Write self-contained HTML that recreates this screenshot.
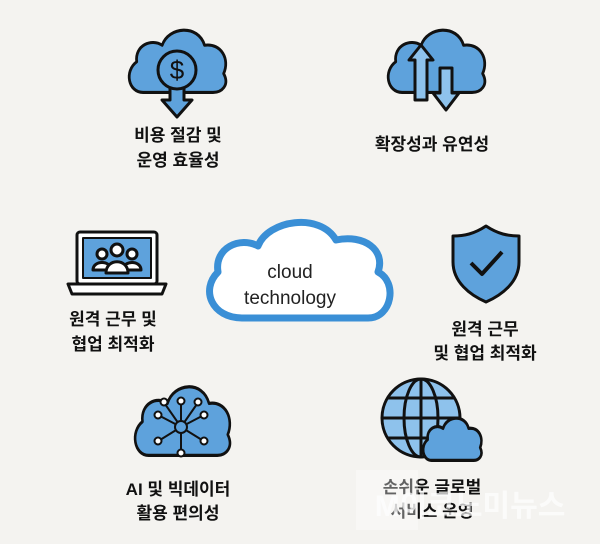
<!DOCTYPE html>
<html><head><meta charset="utf-8"><style>
body{margin:0;width:600px;height:544px;background:#f4f3f0;overflow:hidden;font-family:"Liberation Sans","Noto Sans CJK KR",sans-serif}
svg{position:absolute;left:0;top:0}
</style></head><body>
<svg width="600" height="544" viewBox="0 0 600 544">
<defs>
<path id="c" d="M18,58 C4,58 0,40 12,32 C10,18 26,12 36,18 C42,2 70,0 76,18 C92,16 100,30 94,42 C100,52 92,58 84,58 Z"/>
</defs>
<g stroke="#111" stroke-width="3" stroke-linejoin="round" fill="#5ea2dc">
<use href="#c" transform="translate(124,24) scale(1.06,1.18)" stroke-width="2.6"/>
<path d="M170,85 V100 H162 L177,117 L192,100 H184 V85 Z"/>
<circle cx="177" cy="70" r="19"/>
<text x="177" y="79" font-size="26" fill="#111" stroke="none" text-anchor="middle" font-family="Liberation Sans">$</text>
<use href="#c" transform="translate(383,24) scale(1.06,1.18)" stroke-width="2.6"/>
<path d="M409,60 L421,45 L433,60 H427 V100 H415 V60 Z" fill="#8ec2ec"/>
<path d="M440,68 H452 V93 H459 L446,110 L433,93 H440 Z" fill="#8ec2ec"/>
<rect x="77" y="232" width="80" height="52" rx="3" fill="#fff"/>
<rect x="83" y="238" width="68" height="40" fill="#5ea2dc" stroke-width="2"/>
<path d="M68,284 H166 L162,294 H72 Z" fill="#fff"/>
<circle cx="102" cy="254" r="5" fill="#fff"/><path d="M93,270 C93,260 111,260 111,270 Z" fill="#fff"/>
<circle cx="132" cy="254" r="5" fill="#fff"/><path d="M123,270 C123,260 141,260 141,270 Z" fill="#fff"/>
<circle cx="117" cy="250" r="6" fill="#fff"/><path d="M106,273 C106,258 128,258 128,273 Z" fill="#fff"/>
<path d="M486,226 C474,234 464,236 453,236 V262 C453,282 470,295 486,302 C502,295 519,282 519,262 V236 C508,236 498,234 486,226 Z"/>
<path d="M471,263 L482,274 L502,252" fill="none" stroke="#111" stroke-width="4"/>
<use href="#c" transform="translate(130,380) scale(1.04,1.3)" stroke-width="2.5"/>
<g stroke-width="2" fill="#fff">
<path d="M181,427 L181,403 M181,427 L181,451 M181,427 L160,416 M181,427 L202,416 M181,427 L160,440 M181,427 L202,440 M181,427 L165,404 M181,427 L197,404" fill="none"/>
<circle cx="181" cy="427" r="6" fill="#5ea2dc"/>
<circle cx="181" cy="401" r="3.5"/><circle cx="181" cy="453" r="3.5"/>
<circle cx="158" cy="415" r="3.5"/><circle cx="204" cy="415" r="3.5"/>
<circle cx="158" cy="441" r="3.5"/><circle cx="204" cy="441" r="3.5"/>
<circle cx="164" cy="402" r="3.5"/><circle cx="198" cy="402" r="3.5"/>
</g>
<circle cx="421" cy="418" r="39" fill="#8ec2ec"/>
<ellipse cx="421" cy="418" rx="17" ry="39" fill="none"/>
<path d="M421,379 V457 M382,418 H460 M387,398 H455 M387,438 H455" fill="none"/>
<use href="#c" transform="translate(420,414) scale(0.64,0.8)" stroke-width="4"/>
</g>
<path d="M242,318 C212,318 200,290 218,272 C214,248 240,236 258,246 C268,220 320,212 336,240 C364,234 386,250 378,272 C398,282 392,318 368,318 Z" fill="#fff" stroke="#3a8fd6" stroke-width="7" stroke-linejoin="round"/>
<text x="290" y="278" font-size="19" text-anchor="middle" fill="#222">cloud</text>
<text x="290" y="304" font-size="19" text-anchor="middle" fill="#222">technology</text>
<g font-size="17" font-weight="bold" fill="#111" text-anchor="middle" font-family="Liberation Sans, Noto Sans CJK KR, sans-serif">
<text x="178" y="141">비용 절감 및</text><text x="178" y="166">운영 효율성</text>
<text x="432" y="150">확장성과 유연성</text>
<text x="113" y="325">원격 근무 및</text><text x="113" y="350">협업 최적화</text>
<text x="485" y="335">원격 근무</text><text x="485" y="359">및 협업 최적화</text>
<text x="178" y="495">AI 및 빅데이터</text><text x="178" y="519">활용 편의성</text>
<text x="432" y="493">손쉬운 글로벌</text><text x="432" y="517">서비스 운영</text>
</g>
<rect x="356" y="470" width="62" height="60" fill="#fff" opacity="0.35"/>
<text x="470" y="516" font-size="30" font-weight="bold" fill="#fff" opacity="0.7" text-anchor="middle" font-family="Liberation Sans, Noto Sans CJK KR, sans-serif">M이코노미뉴스</text>
</svg>
</body></html>
